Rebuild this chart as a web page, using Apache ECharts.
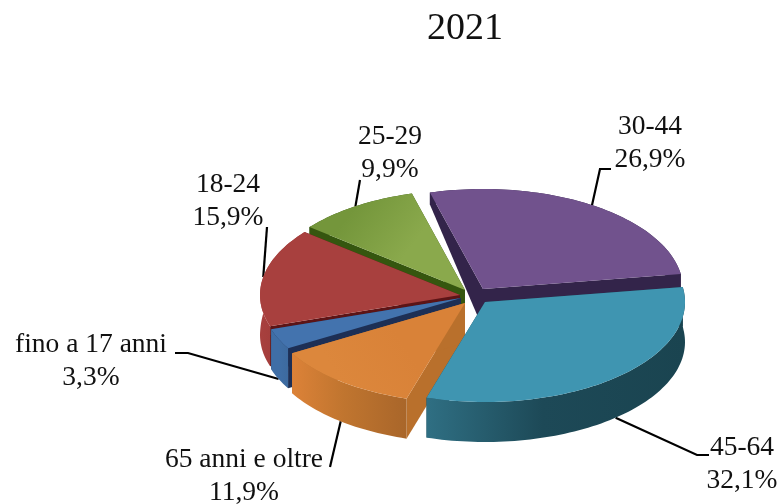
<!DOCTYPE html>
<html><head><meta charset="utf-8">
<style>html,body{margin:0;padding:0;background:#fff}#c{width:778px;height:504px}</style>
<script src="https://cdn.jsdelivr.net/npm/echarts@6/dist/echarts.min.js"></script>
</head><body><div id="c"></div>
<script>
const title = '2021';
const categories = ['30-44', '45-64', '65 anni e oltre', 'fino a 17 anni', '18-24', '25-29'];
const shares = [26.9, 32.1, 11.9, 3.3, 15.9, 9.9];

// --- layout and style, kept apart from the data ---
const FONT = '"Liberation Serif", serif';
const center = [468, 296], rx = 200, ry = 100, firstAngle = -15.4;
const explode = [[15, -7], [17, 6], [-3, 7], [-7, 2], [-8, -1], [-3, -6]];
const topApex = ['#71528d', '#3f95b1', '#d98238', '#4373ae', '#a8403e', '#8aa94c'];
const topRim = ['#71528d', '#3f95b1', '#dc873c', '#4373ae', '#a8403e', '#74963b'];
const cutColor = ['#33244a', '#1c4754', '#b9702c', '#1d2f55', '#5c1416', '#35560f'];
const wallStops = [
  ['#33244a', '#33244a', '#33244a'], ['#2f6f83', '#1d4957', '#1a4450'], ['#dc8238', '#c0752f', '#a9662a'],
  ['#3f6ea6', '#3f6ea6', '#3d6a9f'], ['#a8403e', '#a03c3a', '#8f3533'], ['#35560f', '#35560f', '#35560f']
];
const labelAt = [[650, 143.5], [742, 464], [244, 476], [91, 361], [228, 201], [390, 153.5]];
const elbows = [
  [[600, 169], [611, 169]], [[697, 455], [709, 455]], [[330, 467]],
  [[188, 353], [175, 353]], [[267, 227]], [[360, 180]]
];
const drawOrder = [0, 5, 4, 3, 2, 1];

function thickness(y) {               // back of the cake is foreshortened
  return y >= 290 ? 40 : Math.max(12, 40 - (290 - y) * 0.29);
}
function rimPoint(ax, ay, deg) {
  const r = deg * Math.PI / 180;
  return [ax + rx * Math.sin(r), ay - ry * Math.cos(r)];
}
function down(p) { return [p[0], p[1] + thickness(p[1])]; }

const total = shares.reduce((a, b) => a + b, 0);
const starts = [];
shares.reduce((acc, v, i) => { starts[i] = acc; return acc + v / total * 360; }, firstAngle);

function renderSlice(params, api) {
  const i = api.value(1);
  const sweep = api.value(0) / total * 360;
  const a0 = starts[i], a1 = a0 + sweep;
  const ax = center[0] + explode[i][0], ay = center[1] + explode[i][1];
  const arc = [];
  const n = Math.max(6, Math.round(sweep / 1.5));
  for (let k = 0; k <= n; k++) arc.push(rimPoint(ax, ay, a0 + sweep * k / n));
  const apex = [ax, ay];
  const kids = [];
  const poly = (points, fill) => kids.push({ type: 'polygon', shape: { points }, style: { fill } });
  // cut faces
  [arc[0], arc[n]].forEach(p => poly([apex, p, down(p), down(apex)], cutColor[i]));
  // outer wall
  const xs = arc.map(p => p[0]);
  const minX = Math.min(...xs), maxX = Math.max(...xs);
  const grad = new echarts.graphic.LinearGradient(minX, 0, maxX, 0, [
    { offset: 0, color: wallStops[i][0] },
    { offset: 0.45, color: wallStops[i][1] },
    { offset: 1, color: wallStops[i][2] }], true);
  poly(arc.concat(arc.map(down).reverse()), grad);
  // top
  const rimMid = rimPoint(ax, ay, (a0 + a1) / 2);
  const topGrad = new echarts.graphic.LinearGradient(ax, ay, rimMid[0], rimMid[1], [
    { offset: 0.5, color: topApex[i] }, { offset: 1, color: topRim[i] }], true);
  poly([apex].concat(arc), topGrad);
  return { type: 'group', children: kids };
}

function renderLabel(params, api) {
  const i = api.value(1);
  const mid = starts[i] + api.value(0) / total * 180;
  const ax = center[0] + explode[i][0], ay = center[1] + explode[i][1];
  let p = rimPoint(ax, ay, mid);
  if (Math.cos(mid * Math.PI / 180) < 0) p = down(p);   // front slices: line meets the wall's lower edge
  const pct = api.value(0).toFixed(1).replace('.', ',') + '%';
  return {
    type: 'group',
    children: [
      { type: 'polyline', shape: { points: [p].concat(elbows[i]) },
        style: { stroke: '#000', lineWidth: 2.2, fill: null } },
      { type: 'text', x: labelAt[i][0], y: labelAt[i][1],
        style: { text: categories[i] + '\n' + pct, fill: '#111',
          font: '27.5px ' + FONT, align: 'center', verticalAlign: 'middle', lineHeight: 33 } }
    ]
  };
}

const order = drawOrder.map(i => [shares[i], i]);
const chart = echarts.init(document.getElementById('c'), null, { renderer: 'canvas' });
chart.setOption({
  animation: false,
  backgroundColor: '#fff',
  title: { text: title, left: 422, top: 5,
    textStyle: { fontFamily: FONT, fontSize: 38, fontWeight: 'normal', color: '#111' } },
  series: [
    { type: 'custom', coordinateSystem: 'none', silent: true, z: 1, data: order, renderItem: renderLabel },
    { type: 'custom', coordinateSystem: 'none', silent: true, z: 2, data: order, renderItem: renderSlice }
  ]
});
</script></body></html>
